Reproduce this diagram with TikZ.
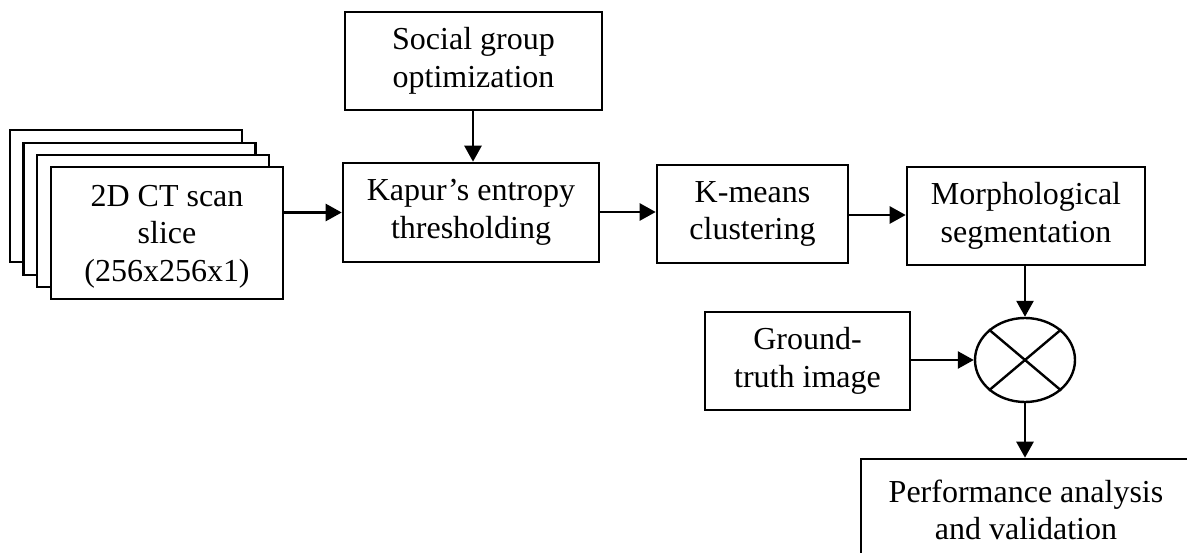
\documentclass[tikz,border=0pt]{standalone}
\usepackage{fontspec}
\setmainfont{Liberation Serif}
\usetikzlibrary{arrows.meta,shapes.geometric}
\begin{document}
\begin{tikzpicture}[x=1pt,y=-1pt,
  box/.style={draw,line width=2.6pt,fill=white,inner sep=0pt,align=center,
    font=\fontsize{32}{37.5}\selectfont},
  arr/.style={line width=2.6pt,-{Triangle[length=16pt,width=17pt]}}]
\useasboundingbox (0,0) rectangle (1187,553);
% slice stack
\node[box,minimum width=232pt,minimum height=132pt] (s1) at (126,196) {};
\node[box,minimum width=232pt,minimum height=132pt] (s2) at (139.5,209) {};
\node[box,minimum width=232pt,minimum height=132pt] (s3) at (153,221) {};
\node[box,minimum width=232pt,minimum height=132pt,text depth=0pt] (front) at (167,233) {2D CT scan\\slice\\(256x256x1)};
% process boxes
\node[box,minimum width=257pt,minimum height=98pt] (social) at (473.5,61) {Social group\\optimization};
\node[box,minimum width=256pt,minimum height=99pt] (kapur) at (471,212.5) {Kapur’s entropy\\thresholding};
\node[box,minimum width=191pt,minimum height=98pt] (kmeans) at (752.5,214) {K-means\\clustering};
\node[box,minimum width=238pt,minimum height=98pt] (morph) at (1026,216) {Morphological\\segmentation};
\node[box,minimum width=205pt,minimum height=98pt] (ground) at (807.5,361) {Ground-\\truth image};
\node[draw,line width=2.4pt,ellipse,inner sep=0pt,minimum width=100pt,minimum height=84pt] (circ) at (1025,360) {};
\draw[line width=2.4pt] (circ.north west) -- (circ.south east);
\draw[line width=2.4pt] (circ.north east) -- (circ.south west);
\node[box,minimum width=330pt,minimum height=102pt] (perf) at (1026,510) {Performance analysis\\and validation};
% connectors
\draw[arr] (front.east |- kapur.west) -- (kapur.west);
\draw[arr] (social.south -| 473,0) -- (kapur.north -| 473,0);
\draw[arr] (kapur.east |- 0,212) -- (kmeans.west |- 0,212);
\draw[arr] (kmeans.east |- 0,215) -- (morph.west |- 0,215);
\draw[arr] (circ.north |- morph.south) -- (circ.north);
\draw[arr] (ground.east |- circ.west) -- (circ.west);
\draw[arr] (circ.south) -- (circ.south |- perf.north);
\end{tikzpicture}
\end{document}
